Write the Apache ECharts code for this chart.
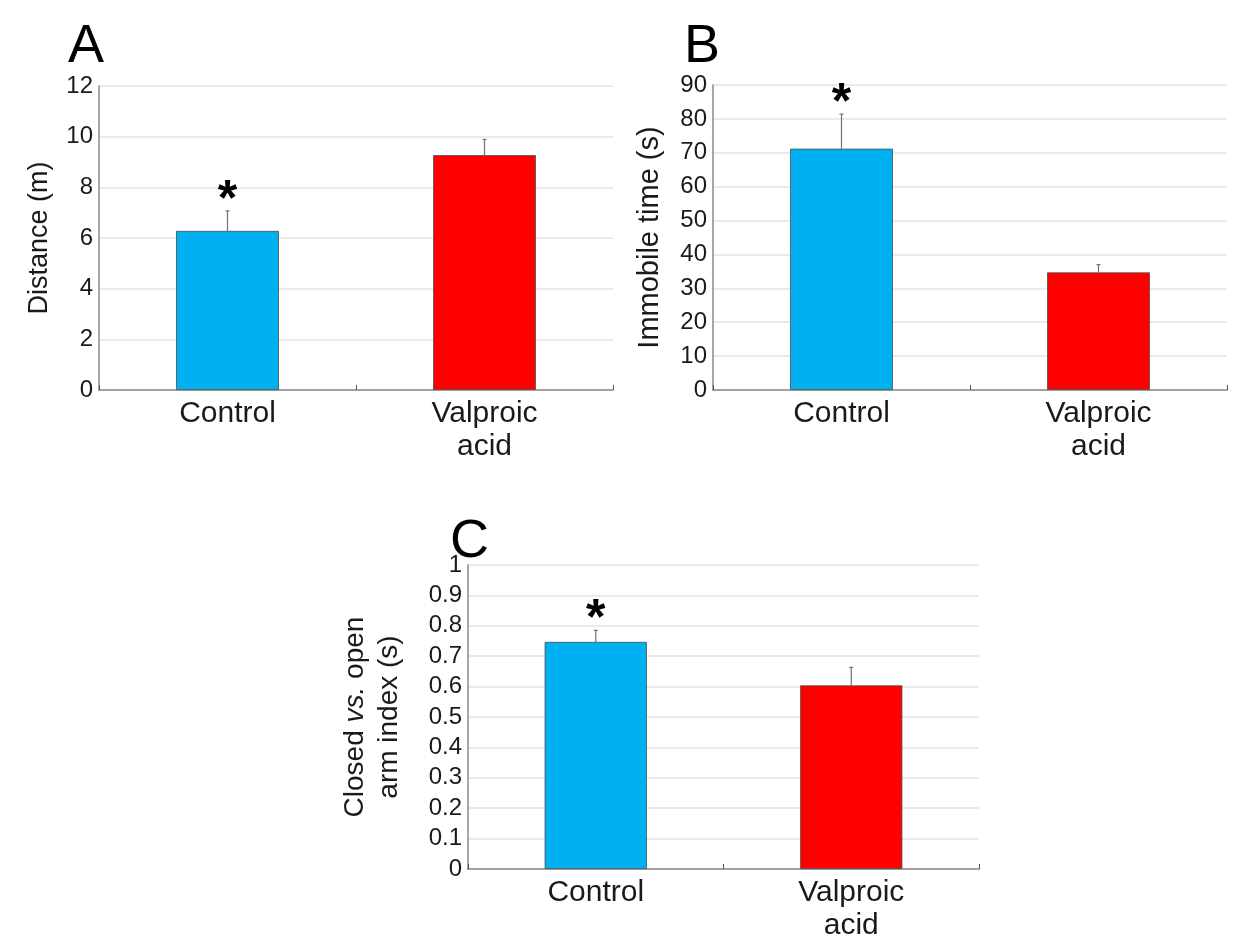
<!DOCTYPE html>
<html>
<head>
<meta charset="utf-8">
<script src="https://cdn.jsdelivr.net/npm/echarts@6/dist/echarts.min.js"></script>
<style>
html,body{margin:0;padding:0;background:#fff;}
#chart{width:1249px;height:942px;}
</style>
</head>
<body>
<div id="chart"></div>
<script>
// ---- data ----
const categories = ['Control', 'Valproic\nacid'];
const distanceMean = [6.28, 9.27];
const distanceErr = [0.79, 0.62];
const immobileMean = [71.2, 34.7];
const immobileErr = [10.2, 2.3];
const indexMean = [0.747, 0.604];
const indexErr = [0.038, 0.059];
const significant = [true, false];
const panelLetters = ['A', 'B', 'C'];

const FONT = '"Liberation Sans", Arial, sans-serif';
const barColors = ['#00B0F0', '#FF0000'];

const chart = echarts.init(document.getElementById('chart'), null, {renderer: 'canvas'});

const grids = [
  {left: 99, right: 636, top: 86, bottom: 552},
  {left: 713, right: 22, top: 85, bottom: 552},
  {left: 468, right: 270, top: 565, bottom: 72}
];
const yDefs = [
  {min: 0, max: 12, interval: 2, name: 'Distance (m)', gap: 42, size: 27},
  {min: 0, max: 90, interval: 10, name: 'Immobile time (s)', gap: 46, size: 29},
  {min: 0, max: 1, interval: 0.1, name: '{n|Closed }{i|vs.}{n| open}\n{n|arm index (s)}', gap: 62, size: 28}
];
const means = [distanceMean, immobileMean, indexMean];
const errs = [distanceErr, immobileErr, indexErr];

const xAxes = grids.map((g, i) => ({
  type: 'category', gridIndex: i, data: categories,
  axisLine: {lineStyle: {color: '#8a8a8a', width: 1.5}},
  axisTick: {show: true, inside: true, length: 5, lineStyle: {color: '#555'}},
  axisLabel: {color: '#1a1a1a', fontSize: 30, fontFamily: FONT, margin: 7, lineHeight: 33, interval: 0}
}));
const yAxes = yDefs.map((d, i) => ({
  type: 'value', gridIndex: i, min: d.min, max: d.max, interval: d.interval,
  name: d.name, nameLocation: 'middle', nameGap: d.gap, nameRotate: 90,
  nameTextStyle: {
    color: '#1a1a1a', fontSize: d.size, fontFamily: FONT, lineHeight: 34,
    rich: {
      n: {fontSize: d.size, fontFamily: FONT, color: '#1a1a1a', lineHeight: 34},
      i: {fontSize: d.size, fontFamily: FONT, color: '#1a1a1a', fontStyle: 'italic', lineHeight: 34}
    }
  },
  axisLine: {show: true, lineStyle: {color: '#8a8a8a', width: 1.5}},
  axisTick: {show: false},
  splitLine: {show: true, lineStyle: {color: '#e3e3e3', width: 1.5}},
  axisLabel: {color: '#1a1a1a', fontSize: 24, fontFamily: FONT, margin: 6,
    formatter: v => String(+v.toFixed(1))}
}));

const series = [];
means.forEach((m, i) => {
  series.push({
    type: 'bar', xAxisIndex: i, yAxisIndex: i, barWidth: '40%',
    data: m.map((v, k) => ({value: v, itemStyle: {color: barColors[k], borderColor: '#4d4d4d', borderWidth: 0.8}})),
    silent: true, animation: false
  });
  series.push({
    type: 'custom', xAxisIndex: i, yAxisIndex: i, animation: false, silent: true,
    data: m.map((v, k) => [k, v, errs[i][k], significant[k] ? 1 : 0]),
    renderItem: function (params, api) {
      const k = api.value(0), v = api.value(1), e = api.value(2), sig = api.value(3);
      const p0 = api.coord([k, v]);
      const p1 = api.coord([k, v + e]);
      const children = [
        {type: 'line', shape: {x1: p0[0], y1: p0[1], x2: p1[0], y2: p1[1]}, style: {stroke: '#707070', lineWidth: 1.2}},
        {type: 'line', shape: {x1: p1[0] - 2, y1: p1[1], x2: p1[0] + 2, y2: p1[1]}, style: {stroke: '#707070', lineWidth: 1.2}}
      ];
      if (sig) {
        // asterisk glyph sits high in its em box, so the text centre is placed lower
        children.push({type: 'text', x: p1[0], y: p1[1] - 10,
          style: {text: '*', font: 'bold 50px ' + FONT, fill: '#000', align: 'center', verticalAlign: 'middle'}
        });
      }
      return {type: 'group', children: children};
    }
  });
});

const titles = [
  {text: 'A', left: 63, top: 15},
  {text: 'B', left: 679, top: 15},
  {text: 'C', left: 445, top: 510}
].map(t => Object.assign(t, {textStyle: {fontSize: 54, fontWeight: 'normal', color: '#000', fontFamily: FONT}}));

chart.setOption({
  animation: false,
  backgroundColor: '#fff',
  title: titles,
  grid: grids,
  xAxis: xAxes,
  yAxis: yAxes,
  series: series
});
</script>
</body>
</html>
